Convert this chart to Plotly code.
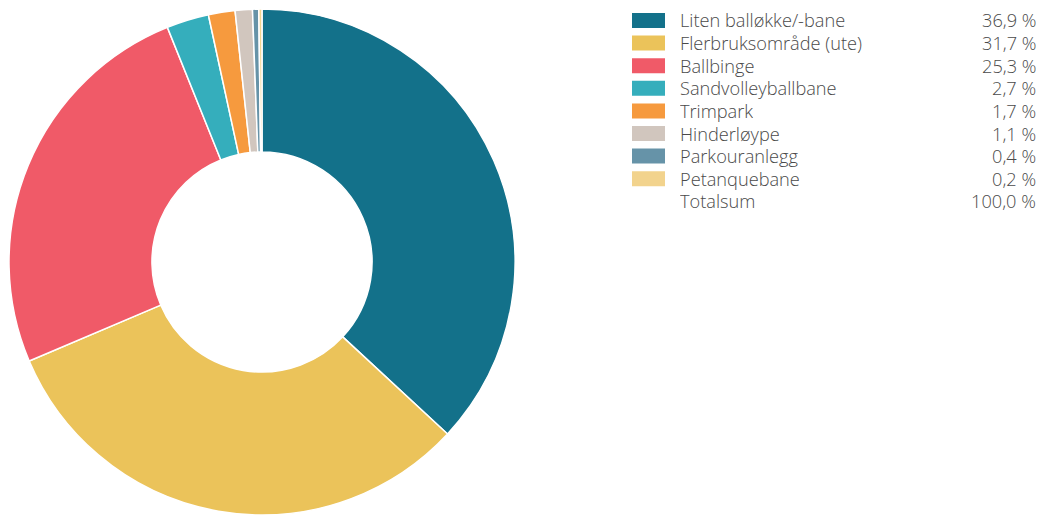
import plotly.graph_objects as go

categories = ["Liten balløkke/-bane", "Flerbruksområde (ute)", "Ballbinge", "Sandvolleyballbane",
              "Trimpark", "Hinderløype", "Parkouranlegg", "Petanquebane"]
values = [36.9, 31.7, 25.3, 2.7, 1.7, 1.1, 0.4, 0.2]
value_labels = ["36,9 %", "31,7 %", "25,3 %", "2,7 %", "1,7 %", "1,1 %", "0,4 %", "0,2 %"]
total_label = "Totalsum"
total_value = "100,0 %"
colors = ["#13718A", "#EBC35A", "#F05A68", "#35AEBC", "#F69A3E", "#D1C6BE", "#6693A8", "#F2D38D"]

W, H = 1040, 515
MT = 9
PH = H - MT

def px(x):
    return x / W

def py(y):
    return 1 - (y - MT) / PH

fig = go.Figure()
fig.add_trace(go.Pie(
    labels=categories, values=values, hole=0.435, sort=False, direction="clockwise",
    rotation=0, marker=dict(colors=colors, line=dict(color="white", width=1.5)),
    textinfo="none", hoverinfo="label+percent", showlegend=False,
    domain=dict(x=[px(9), px(515)], y=[0, 1]),
))

font = dict(family="Open Sans", size=18.2, color="#4a4a4a", weight=300)
row0 = 20.5
step = 22.6
shapes = []
annotations = []
rows = list(zip(categories, value_labels, colors)) + [(total_label, total_value, None)]
for i, (lab, val, col) in enumerate(rows):
    yc = row0 + i * step
    if col:
        shapes.append(dict(type="rect", xref="paper", yref="paper",
                           x0=px(632), x1=px(665), y0=py(yc - 7.5), y1=py(yc + 7.5),
                           fillcolor=col, line=dict(width=0)))
    annotations.append(dict(x=px(681), y=py(yc), xref="paper", yref="paper", text=lab,
                            showarrow=False, xanchor="left", yanchor="middle", font=font,
                            height=22, borderpad=0, xshift=-2))
    annotations.append(dict(x=px(1036), y=py(yc), xref="paper", yref="paper", text=val,
                            showarrow=False, xanchor="right", yanchor="middle", font=font,
                            height=22, borderpad=0, xshift=1))

fig.update_layout(width=W, height=H, margin=dict(l=0, r=0, t=MT, b=0),
                  paper_bgcolor="white", plot_bgcolor="white",
                  shapes=shapes, annotations=annotations)
fig.write_html("out.html", config={"displayModeBar": False},
               post_script="document.body.style.margin='0';document.body.style.overflow='hidden';")
